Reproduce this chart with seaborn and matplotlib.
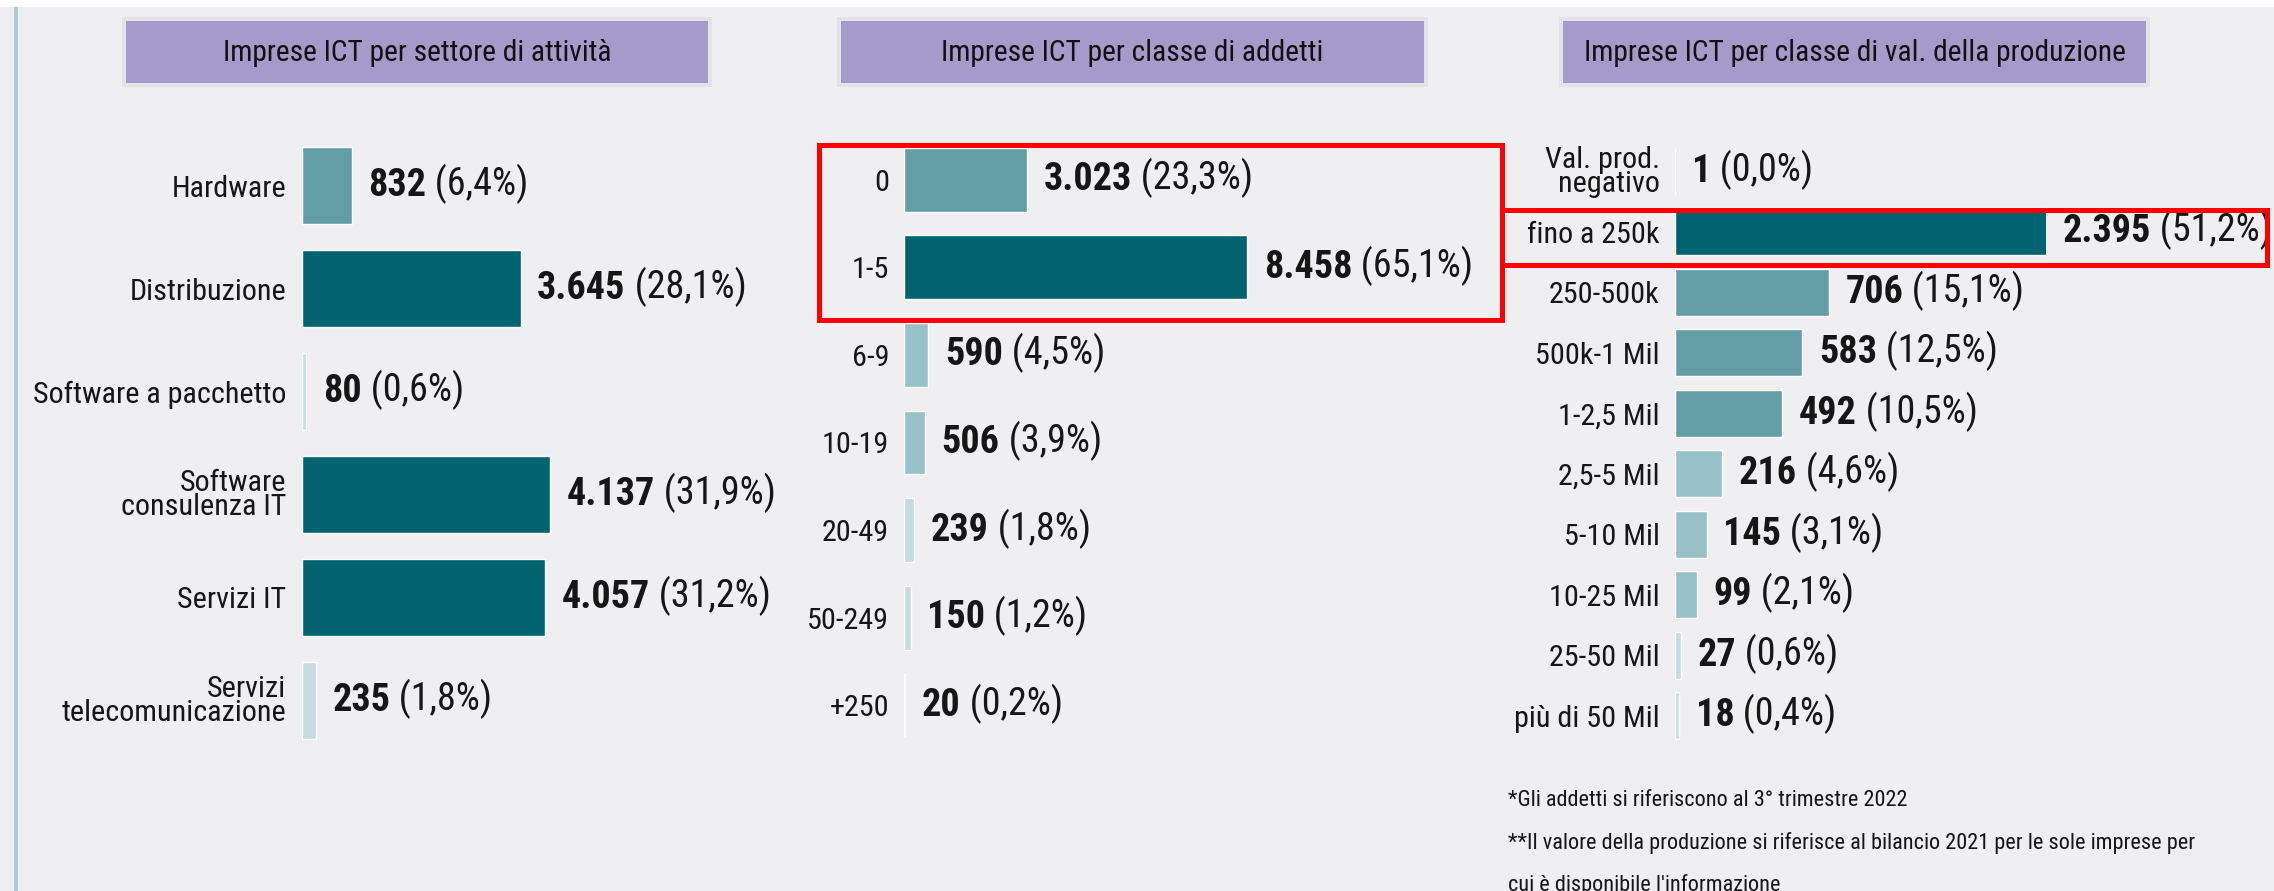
# -*- coding: utf-8 -*-
"""
Imprese ICT: tre pannelli a barre orizzontali (settore, addetti, valore produzione)
"""

import os
import matplotlib
matplotlib.use("Agg")
import matplotlib.pyplot as plt
from matplotlib import font_manager
from matplotlib.font_manager import FontProperties
from matplotlib.patches import Rectangle
import seaborn as sns

# data
settori = ["Hardware", "Distribuzione", "Software a pacchetto",
           "Software\nconsulenza IT", "Servizi IT", "Servizi\ntelecomunicazione"]
settori_n = [832, 3645, 80, 4137, 4057, 235]
settori_pct = [6.4, 28.1, 0.6, 31.9, 31.2, 1.8]

addetti = ["0", "1-5", "6-9", "10-19", "20-49", "50-249", "+250"]
addetti_n = [3023, 8458, 590, 506, 239, 150, 20]
addetti_pct = [23.3, 65.1, 4.5, 3.9, 1.8, 1.2, 0.2]

produzione = ["Val. prod.\nnegativo", "fino a 250k", "250-500k", "500k-1 Mil", "1-2,5 Mil",
              "2,5-5 Mil", "5-10 Mil", "10-25 Mil", "25-50 Mil", "più di 50 Mil"]
produzione_n = [1, 2395, 706, 583, 492, 216, 145, 99, 27, 18]
produzione_pct = [0.0, 51.2, 15.1, 12.5, 10.5, 4.6, 3.1, 2.1, 0.6, 0.4]

titoli = ["Imprese ICT per settore di attività",
          "Imprese ICT per classe di addetti",
          "Imprese ICT per classe di val. della produzione"]

note = ["*Gli addetti si riferiscono al 3° trimestre 2022",
        "**Il valore della produzione si riferisce al bilancio 2021 per le sole imprese per",
        "cui è disponibile l'informazione"]

sns.set_theme(style="white")
plt.rcParams["font.family"] = ["DejaVu Sans"]


def pick_fonts():
    # the original uses a very narrow face: look for a condensed file
    files = {os.path.basename(f.fname).lower(): f.fname
             for f in font_manager.fontManager.ttflist}
    pairs = [("notosans-extracondensed.ttf", "notosans-extracondensedbold.ttf"),
             ("liberationsansnarrow-regular.ttf", "liberationsansnarrow-bold.ttf"),
             ("robotocondensed-regular.ttf", "robotocondensed-bold.ttf"),
             ("notosans-condensed.ttf", "notosans-condensedbold.ttf"),
             ("opensans-condensed-regular.ttf", "opensans-condensed-bold.ttf"),
             ("dejavusanscondensed.ttf", "dejavusanscondensed-bold.ttf")]
    for reg, bold in pairs:
        if reg in files:
            return (FontProperties(fname=files[reg]),
                    FontProperties(fname=files.get(bold, files[reg])))
    return FontProperties(family="DejaVu Sans"), FontProperties(family="DejaVu Sans", weight="bold")


FP_REG, FP_BOLD = pick_fonts()

BG = "#efeff2"
INK = "#161616"
W, H = 2274, 891


def fx(px):
    return px / W


def fy(py):
    return 1 - py / H


def shade(p):
    # colour of the bar follows its share
    if p >= 25:
        return "#00636f"
    if p >= 5:
        return "#639ea6"
    if p >= 2:
        return "#97c1c7"
    return "#c6dcdf"


def fmt_n(v):
    return f"{v:,}".replace(",", ".")


def fmt_p(p):
    return f"({p:.1f}%)".replace(".", ",")


fig = plt.figure(figsize=(W / 100, H / 100), dpi=100, facecolor=BG)
renderer = fig.canvas.get_renderer()


def fit_size(text, fp, width_px, cap):
    # font size that gives the text the width it has in the reference
    t = fig.text(0, 0, text, fontproperties=fp, fontsize=10)
    w = t.get_window_extent(renderer).width
    t.remove()
    return min(cap, 10 * width_px / w)


def sized(fp, s):
    f = fp.copy()
    f.set_size(s)
    return f


S_TITLE = fit_size(titoli[0], FP_REG, 385, 27)
S_LAB = fit_size("Distribuzione", FP_REG, 155, 27)
S_VAL = fit_size("3.645", FP_BOLD, 89, 31)
S_NOTE = fit_size(note[1], FP_REG, 680, 20)

# white strip on top and the thin line on the left
fig.patches.append(Rectangle((0, fy(7)), 1, 7 / H, transform=fig.transFigure,
                             facecolor="white", edgecolor="none", zorder=0))
fig.patches.append(Rectangle((fx(14), 0), 4 / W, fy(7), transform=fig.transFigure,
                             facecolor="#a9cdd2", edgecolor="none", zorder=0))

# panel layout in pixels: left, right, top, bottom, bar width, x limit
panels = [
    (settori, settori_n, settori_pct, 301.5, 721.5, 134.5, 751.5, 0.75, 6988),
    (addetti, addetti_n, addetti_pct, 904.5, 1324.5, 136, 749, 0.73, 10370),
    (produzione, produzione_n, produzione_pct, 1675, 2046, 141, 746, 0.77, 1702),
]

for cats, vals, pcts, l, r, t, b, bw, xmax in panels:
    ax = fig.add_axes([fx(l), fy(b), (r - l) / W, (b - t) / H])
    ax.set_facecolor("none")
    sns.barplot(x=vals, y=cats, hue=cats, palette=[shade(p) for p in pcts],
                legend=False, saturation=1, width=bw, orient="h", ax=ax)
    ax.set_xlim(0, xmax)
    ax.set_ylim(len(cats) - 0.5, -0.5)
    for s in ax.spines.values():
        s.set_visible(False)
    ax.set_xticks([])
    ax.set_xlabel("")
    ax.set_ylabel("")
    ax.set_yticks(range(len(cats)))
    ax.set_yticklabels(cats, fontproperties=sized(FP_REG, S_LAB), color=INK,
                       linespacing=0.8)
    ax.tick_params(axis="y", length=0, pad=11)

    for i, (v, p) in enumerate(zip(vals, pcts)):
        t1 = ax.annotate(fmt_n(v), xy=(min(v, xmax), i), xytext=(12, 0),
                         textcoords="offset points", va="center", ha="left",
                         fontproperties=sized(FP_BOLD, S_VAL), color=INK,
                         annotation_clip=False)
        ax.annotate(" " + fmt_p(p), xy=(1, 0), xycoords=t1, va="bottom", ha="left",
                    fontproperties=sized(FP_REG, S_VAL), color=INK,
                    annotation_clip=False)

# title boxes
for (l, r), txt in zip([(126, 708), (841, 1424), (1563, 2146)], titoli):
    fig.patches.append(Rectangle((fx(l - 4), fy(87)), (r - l + 8) / W, 70 / H,
                                 transform=fig.transFigure, facecolor="#e3e1ea",
                                 edgecolor="none", zorder=1))
    fig.patches.append(Rectangle((fx(l), fy(83)), (r - l) / W, 62 / H,
                                 transform=fig.transFigure, facecolor="#a59bcb",
                                 edgecolor="none", zorder=2))
    fig.text(fx((l + r) / 2), fy(53), txt, ha="center", va="center",
             fontproperties=sized(FP_REG, S_TITLE), color="#111111", zorder=3)

# red highlight frames
for l, r, t, b in [(819, 1502, 145, 320), (1502, 2267, 210, 265)]:
    fig.patches.append(Rectangle((fx(l), fy(b)), (r - l) / W, (b - t) / H,
                                 transform=fig.transFigure, facecolor="none",
                                 edgecolor="#ff0000", linewidth=3.6, zorder=5))

# footnotes (the last line runs off the bottom, as in the original)
for k, line in enumerate(note):
    fig.text(fx(1508), fy(790 + 42 * k), line, ha="left", va="top",
             fontproperties=sized(FP_REG, S_NOTE), color=INK)

fig.savefig("out.png", dpi=100, facecolor=BG)
